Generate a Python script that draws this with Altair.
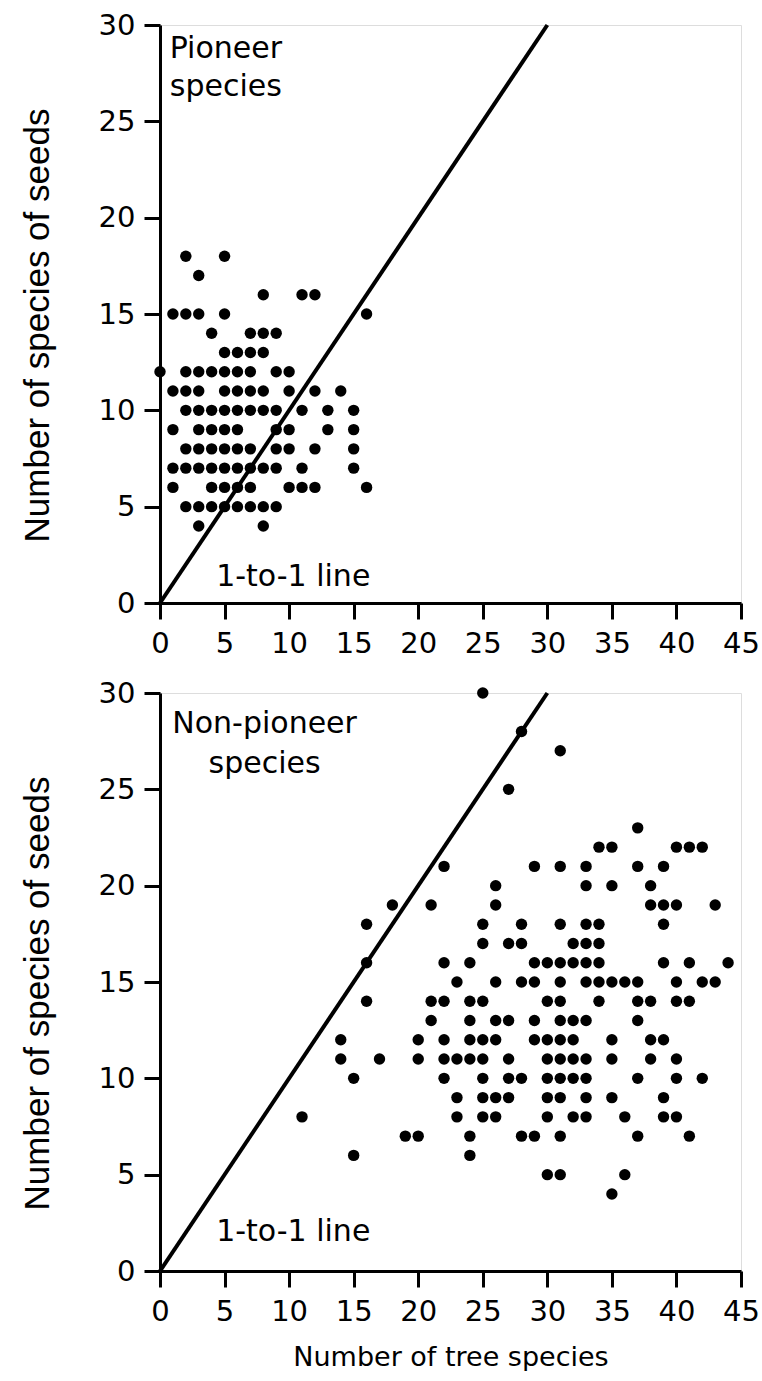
import altair as alt
import pandas as pd

# ---- data: pioneer species (row value y -> list of x values) ----
pioneer_rows = [
    (18, [2, 5]),
    (17, [3]),
    (16, [8, 11, 12]),
    (15, [1, 2, 3, 5, 16]),
    (14, [4, 7, 8, 9]),
    (13, [5, 6, 7, 8]),
    (12, [0, 2, 3, 4, 5, 6, 7, 9, 10]),
    (11, [1, 2, 3, 5, 6, 7, 8, 10, 12, 14]),
    (10, [2, 3, 4, 5, 6, 7, 8, 9, 11, 13, 15]),
    (9, [1, 3, 4, 5, 6, 9, 10, 13, 15]),
    (8, [2, 3, 4, 5, 6, 7, 9, 10, 12, 15]),
    (7, [1, 2, 3, 4, 5, 6, 7, 8, 9, 11, 15]),
    (6, [1, 4, 5, 6, 7, 10, 11, 12, 16]),
    (5, [2, 3, 4, 5, 6, 7, 8, 9]),
    (4, [3, 8]),
]

# ---- data: non-pioneer species ----
nonpioneer_rows = [
    (30, [25]),
    (28, [28]),
    (27, [31]),
    (25, [27]),
    (23, [37]),
    (22, [34, 35, 40, 41, 42]),
    (21, [22, 29, 31, 33, 37, 39]),
    (20, [26, 33, 35, 38]),
    (19, [18, 21, 26, 38, 39, 40, 43]),
    (18, [16, 25, 28, 31, 33, 34, 39]),
    (17, [25, 27, 28, 32, 33, 34]),
    (16, [16, 22, 24, 29, 30, 31, 32, 33, 34, 39, 41, 44]),
    (15, [23, 26, 28, 29, 31, 33, 34, 35, 36, 37, 40, 42, 43]),
    (14, [16, 21, 22, 24, 25, 30, 31, 34, 37, 38, 40, 41]),
    (13, [21, 24, 26, 27, 29, 31, 32, 33, 37]),
    (12, [14, 20, 22, 24, 25, 26, 29, 30, 31, 32, 35, 38, 39]),
    (11, [14, 17, 20, 22, 23, 24, 25, 27, 30, 31, 32, 33, 35, 38, 40]),
    (10, [15, 22, 25, 27, 28, 30, 31, 32, 33, 37, 40, 42]),
    (9, [23, 25, 26, 27, 30, 31, 33, 35, 39]),
    (8, [11, 23, 25, 26, 30, 32, 33, 36, 39, 40]),
    (7, [19, 20, 24, 28, 29, 31, 37, 41]),
    (6, [15, 24]),
    (5, [30, 31, 36]),
    (4, [35]),
]

x_ticks = [0, 5, 10, 15, 20, 25, 30, 35, 40, 45]
y_ticks = [0, 5, 10, 15, 20, 25, 30]
one_to_one = [0, 30]

# (text, x, y, align)
top_labels = [("Pioneer", 5.1, 28.75, "center"), ("species", 5.1, 26.8, "center"),
              ("1-to-1 line", 4.35, 1.35, "left")]
bottom_labels = [("Non-pioneer", 8.1, 28.4, "center"), ("species", 8.1, 26.3, "center"),
                 ("1-to-1 line", 4.35, 2.0, "left")]

y_title = "Number of species of seeds"
x_title = "Number of tree species"

W, H = 581, 578
TICK_FONT = "DejaVu Sans"


def rows_to_df(rows):
    xs, ys = [], []
    for y, xlist in rows:
        for x in xlist:
            xs.append(x)
            ys.append(y)
    return pd.DataFrame({"x": xs, "y": ys})


def panel(rows, labels, show_xtitle):
    df = rows_to_df(rows)
    xscale = alt.Scale(domain=[0, 45], nice=False)
    yscale = alt.Scale(domain=[0, 30], nice=False)
    xaxis = alt.Axis(
        values=x_ticks, grid=False, tickSize=16, tickWidth=3, domainWidth=3,
        domainColor="black", tickColor="black", labelFont=TICK_FONT,
        labelFontSize=29, labelColor="black", labelPadding=10,
        labelFlush=False, labelOverlap=False,
        title=x_title if show_xtitle else None,
        titleFont=TICK_FONT, titleFontSize=27, titleFontWeight="normal",
        titleColor="black", titlePadding=18,
    )
    yaxis = alt.Axis(
        values=y_ticks, grid=False, tickSize=16, tickWidth=3, domainWidth=3,
        domainColor="black", tickColor="black", labelFont=TICK_FONT,
        labelFontSize=29, labelColor="black", labelPadding=9,
        labelFlush=False, labelOverlap=False,
        title=y_title, titleFont="Liberation Sans", titleFontSize=35,
        titleFontWeight="normal", titleColor="black", titlePadding=43,
        titleY=H / 2 + 11,
    )
    pts = alt.Chart(df).mark_circle(size=130, color="black", opacity=1).encode(
        x=alt.X("x:Q", scale=xscale, axis=xaxis),
        y=alt.Y("y:Q", scale=yscale, axis=yaxis),
    )
    line_df = pd.DataFrame({"x": one_to_one, "y": one_to_one})
    line = alt.Chart(line_df).mark_line(color="black", strokeWidth=4).encode(
        x=alt.X("x:Q", scale=xscale), y=alt.Y("y:Q", scale=yscale)
    )
    layers = [line, pts]
    for align in ["left", "center"]:
        sub = [l for l in labels if l[3] == align]
        lab_df = pd.DataFrame({
            "t": [l[0] for l in sub],
            "x": [l[1] for l in sub],
            "y": [l[2] for l in sub],
        })
        layers.append(
            alt.Chart(lab_df).mark_text(
                align=align, baseline="middle", font=TICK_FONT, fontSize=30, color="black"
            ).encode(x=alt.X("x:Q", scale=xscale), y=alt.Y("y:Q", scale=yscale), text="t:N")
        )
    return alt.layer(*layers).properties(width=W, height=H)


top = panel(pioneer_rows, top_labels, False)
bottom = panel(nonpioneer_rows, bottom_labels, True)

chart = alt.vconcat(top, bottom, spacing=90, bounds="flush").properties(
    padding={"left": 19, "top": 10, "right": 0, "bottom": 0}
).configure_view(stroke="black", strokeWidth=3).configure(background="white")

chart.save("out.html", embed_options={"renderer": "svg", "actions": False})
